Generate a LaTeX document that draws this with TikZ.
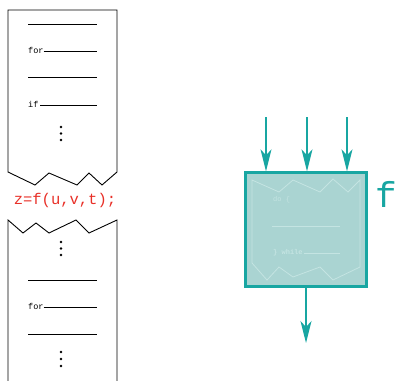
\documentclass[tikz,border=0pt]{standalone}
\usepackage{fontspec}
\setmonofont{Liberation Mono}
\usetikzlibrary{arrows.meta}
\definecolor{tealbox}{RGB}{24,166,162}
\definecolor{tealfill}{RGB}{170,212,210}
\definecolor{tealfaint}{RGB}{196,228,226}
\definecolor{callred}{RGB}{232,48,40}

\begin{document}
\begin{tikzpicture}[x=1pt,y=-1pt,
  paper/.style={draw=black,line width=0.9pt,line join=miter},
  codeln/.style={draw=black,line width=1pt},
  kw/.style={font=\ttfamily\fontsize{8.5}{9}\selectfont,inner sep=0pt,anchor=base west},
  flow/.style={draw=tealbox,line width=1.3pt,-{Stealth[length=22pt,width=11pt,inset=6pt]}},
  fbox/.style={draw=tealbox,fill=tealfill,line width=2.4pt,minimum width=121pt,minimum height=114pt,inner sep=0pt},
  ghost/.style={draw=tealfaint,line width=0.8pt}]
  \useasboundingbox (0,0) rectangle (398,380);

  % caller: code before the call
  \draw[paper] (8,10) -- (117,10) -- (117,172) -- (102,185) -- (89,173) -- (77,185)
    -- (49,173) -- (35,185) -- (8,172) -- cycle;
  \draw[codeln] (28,24) -- (97,24);
  \node[kw] (for1) at (28,53) {for};
  \draw[codeln] (for1.base east) ++(0,-2) -- (97,51);
  \draw[codeln] (28,77) -- (97,77);
  \node[kw] (if1) at (28,107) {if};
  \draw[codeln] (40,105) -- (97,105);
  \foreach \y in {127,133.5,140} \fill (61,\y) circle (1.3);

  \node[font=\ttfamily\fontsize{15.5}{16}\selectfont,text=callred] (call) at (65,200) {z=f(u,v,t);};

  % caller: code after the call
  \draw[paper] (8,385) -- (8,220) -- (23,233) -- (36,223) -- (49,233) -- (76,220)
    -- (89,233) -- (117,220) -- (117,385);
  \foreach \y in {242,248.5,255} \fill (61,\y) circle (1.3);
  \draw[codeln] (28,280) -- (97,280);
  \node[kw] (for2) at (28,309) {for};
  \draw[codeln] (for2.base east) ++(0,-2) -- (97,307);
  \draw[codeln] (28,334) -- (97,334);
  \foreach \y in {352,359,366} \fill (61,\y) circle (1.3);

  % the function as a box
  \node[fbox] (F) at (306,229.5) {};
  \draw[ghost] (252,180) -- (279,192) -- (293,180) -- (320,192) -- (333,179) -- (348,192)
    -- (360,180) -- (360,267) -- (333,280) -- (320,267) -- (293,277) -- (279,267)
    -- (267,280) -- (252,263) -- cycle;
  \node[kw,text=tealfaint,font=\ttfamily\fontsize{7}{8}\selectfont] (do) at (273,201) {do \{};
  \draw[ghost] (272,226) -- (340,226);
  \node[kw,text=tealfaint,font=\ttfamily\bfseries\fontsize{7}{8}\selectfont] (wh) at (273,254) {\} while};
  \draw[ghost] (wh.base east) ++(1,-1) -- (340,253);
  \node[font=\ttfamily\fontsize{36}{36}\selectfont,text=tealbox,inner sep=0pt,anchor=base west] (fname) at (375,207) {f};

  \coordinate (u) at (266,117);
  \coordinate (v) at (307,117);
  \coordinate (t) at (347,117);
  \coordinate (z) at (306,343);
  \foreach \a in {u,v,t}
    \draw[flow] (\a) -- (\a |- F.north);
  \draw[flow] (F.south) -- (z);
\end{tikzpicture}
\end{document}
